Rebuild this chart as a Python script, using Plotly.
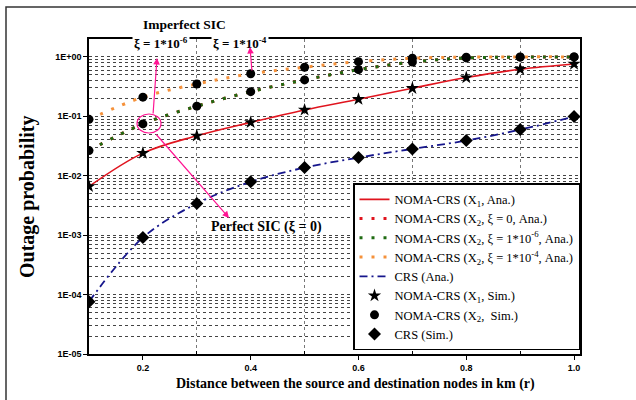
import plotly.graph_objects as go

# Distance between source and destination (km)
r_km = [0.1, 0.2, 0.3, 0.4, 0.5, 0.6, 0.7, 0.8, 0.9, 1.0]

# Outage probability per scheme
noma_x1 = [0.0066, 0.024, 0.047, 0.079, 0.128, 0.194, 0.297, 0.449, 0.62, 0.76]
noma_x2_xi0 = [0.0265, 0.0745, 0.148, 0.26, 0.41, 0.61, 0.82, 0.96, 0.99, 1.0]
noma_x2_xi6 = [0.0265, 0.0745, 0.148, 0.26, 0.41, 0.61, 0.82, 0.96, 0.99, 1.0]
noma_x2_xi4 = [0.089, 0.21, 0.35, 0.52, 0.67, 0.83, 0.95, 0.99, 1.0, 1.0]
crs = [7.6e-5, 9.1e-4, 3.4e-3, 7.9e-3, 0.0137, 0.0202, 0.0283, 0.039, 0.0597, 0.099]

y_tickvals = [1e-5, 1e-4, 1e-3, 1e-2, 1e-1, 1e0]
y_ticktext = ["1E-05", "1E-04", "1E-03", "1E-02", "1E-01", "1E+00"]
x_tickvals = [0.2, 0.4, 0.6, 0.8, 1.0]
x_ticktext = ["0.2", "0.4", "0.6", "0.8", "1.0"]
x_minor = [0.3, 0.5, 0.7, 0.9]

SERIF = "Liberation Serif"
SANS = "Liberation Sans"
PINK = "#ff1493"

# plot area in pixels (left, right, top, bottom)
L, R, T, B = 89, 580, 39, 354


def px_x(p):
    return (p - L) / (R - L)


def px_y(p):
    return (B - p) / (B - T)


fig = go.Figure()

# analytic curves
fig.add_trace(go.Scatter(x=r_km, y=noma_x1, mode="lines", line=dict(color="#e0141e", width=1.6, shape="spline"),
                         name="NOMA-CRS (X<sub>1</sub>, Ana.)"))
fig.add_trace(go.Scatter(x=r_km, y=noma_x2_xi0, mode="lines",
                         line=dict(color="#e0141e", width=3, dash="3px,9px", shape="spline"),
                         name="NOMA-CRS (X<sub>2</sub>, ξ = 0, Ana.)"))
fig.add_trace(go.Scatter(x=r_km, y=noma_x2_xi6, mode="lines",
                         line=dict(color="#1f6b12", width=3, dash="3px,9px", shape="spline"),
                         name="NOMA-CRS (X<sub>2</sub>, ξ = 1*10<sup>-6</sup>, Ana.)"))
fig.add_trace(go.Scatter(x=r_km, y=noma_x2_xi4, mode="lines",
                         line=dict(color="#f5913a", width=3, dash="3px,9px", shape="spline"),
                         name="NOMA-CRS (X<sub>2</sub>, ξ = 1*10<sup>-4</sup>, Ana.)"))
fig.add_trace(go.Scatter(x=r_km, y=crs, mode="lines",
                         line=dict(color="#16168c", width=1.8, dash="8px,4px,2px,4px", shape="spline"),
                         name="CRS (Ana.)"))

# simulated points
fig.add_trace(go.Scatter(x=r_km, y=noma_x1, mode="markers",
                         marker=dict(symbol="star", size=10, color="black"),
                         name="NOMA-CRS (X<sub>1</sub>, Sim.)"))
fig.add_trace(go.Scatter(x=r_km, y=noma_x2_xi6, mode="markers",
                         marker=dict(symbol="circle", size=9, color="black"),
                         name="NOMA-CRS (X<sub>2</sub>,  Sim.)", legendgroup="x2sim"))
fig.add_trace(go.Scatter(x=r_km, y=noma_x2_xi4, mode="markers",
                         marker=dict(symbol="circle", size=9, color="black"),
                         name="NOMA-CRS (X<sub>2</sub>,  Sim.)", legendgroup="x2sim", showlegend=False))
fig.add_trace(go.Scatter(x=r_km, y=crs, mode="markers",
                         marker=dict(symbol="diamond", size=10, color="black"),
                         name="CRS (Sim.)"))

y_minor = [m * 10 ** e for e in range(-5, 1) for m in range(1, 10)]

fig.update_xaxes(
    range=[0.1, 1.011], showline=True, linecolor="black", linewidth=1.5, mirror=True,
    tickvals=x_tickvals, ticktext=x_ticktext, ticks="outside", ticklen=4, tickcolor="black",
    tickfont=dict(family=SANS, size=9, color="black", weight="bold"),
    showgrid=False, zeroline=False,
    minor=dict(tickvals=x_minor, showgrid=True, gridcolor="#777", griddash="dot", gridwidth=1,
               ticks="inside", ticklen=3, tickcolor="black"),
)
fig.update_yaxes(
    type="log", range=[-5, 0.301], showline=True, linecolor="black", linewidth=1.5, mirror=True,
    tickvals=y_tickvals, ticktext=y_ticktext, ticks="outside", ticklen=4, tickcolor="black",
    tickfont=dict(family=SANS, size=9, color="black", weight="bold"),
    showgrid=True, gridcolor="#444", griddash="dot", gridwidth=1, zeroline=False,
    minor=dict(tickvals=y_minor, showgrid=True, gridcolor="#444", griddash="dot", gridwidth=1),
)

annotations = [
    dict(x=px_x(355), y=px_y(384), text="Distance between the source and destination nodes in km (r)",
         font=dict(family=SERIF, size=14, color="black", weight="bold")),
    dict(x=px_x(27), y=px_y(197), text="Outage probability", textangle=-90,
         font=dict(family=SERIF, size=20, color="black", weight="bold")),
    dict(x=px_x(184), y=px_y(25), text="Imperfect SIC",
         font=dict(family=SERIF, size=13.5, color="black", weight="bold")),
    dict(x=px_x(161), y=px_y(43), text="ξ = 1*10<sup>-6</sup>", bgcolor="white",
         font=dict(family=SERIF, size=13, color="black", weight="bold")),
    dict(x=px_x(240), y=px_y(43), text="ξ = 1*10<sup>-4</sup>", bgcolor="white",
         font=dict(family=SERIF, size=13, color="black", weight="bold")),
    dict(x=px_x(266), y=px_y(227), text="Perfect SIC (ξ = 0)",
         font=dict(family=SERIF, size=14, color="black", weight="bold")),
]
for a in annotations:
    a.update(xref="paper", yref="paper", showarrow=False, xanchor="center", yanchor="middle")

# pointer arrows: head position and tail pixel offset
arrows = [((157, 58), (-4, 57)), ((250, 47), (2, 25)), ((229, 218), (-74, -85))]
for (hx, hy), (dx, dy) in arrows:
    annotations.append(dict(x=px_x(hx), y=px_y(hy), xref="paper", yref="paper", text="",
                            showarrow=True, ax=dx, ay=dy, arrowhead=2, arrowsize=1.1,
                            arrowwidth=1.2, arrowcolor=PINK))

shapes = [
    # highlight around the perfect/imperfect SIC point
    dict(type="circle", xref="paper", yref="paper", x0=px_x(137), x1=px_x(161),
         y0=px_y(133), y1=px_y(114), line=dict(color=PINK, width=1.2)),
    # outer figure frame
    dict(type="rect", xref="paper", yref="paper", x0=px_x(6), x1=px_x(660),
         y0=px_y(420), y1=px_y(7), line=dict(color="#333", width=1.5), layer="below"),
]

fig.update_layout(
    width=636, height=400,
    margin=dict(l=L, r=636 - R, t=T, b=400 - B),
    paper_bgcolor="white", plot_bgcolor="white",
    annotations=annotations, shapes=shapes,
    legend=dict(x=1, y=0.012, xanchor="right", yanchor="bottom",
                bgcolor="white", bordercolor="black", borderwidth=1.5,
                font=dict(family=SERIF, size=12.5, color="black"),
                tracegroupgap=0, itemwidth=30),
    showlegend=True,
)

fig.write_html("out.html")
